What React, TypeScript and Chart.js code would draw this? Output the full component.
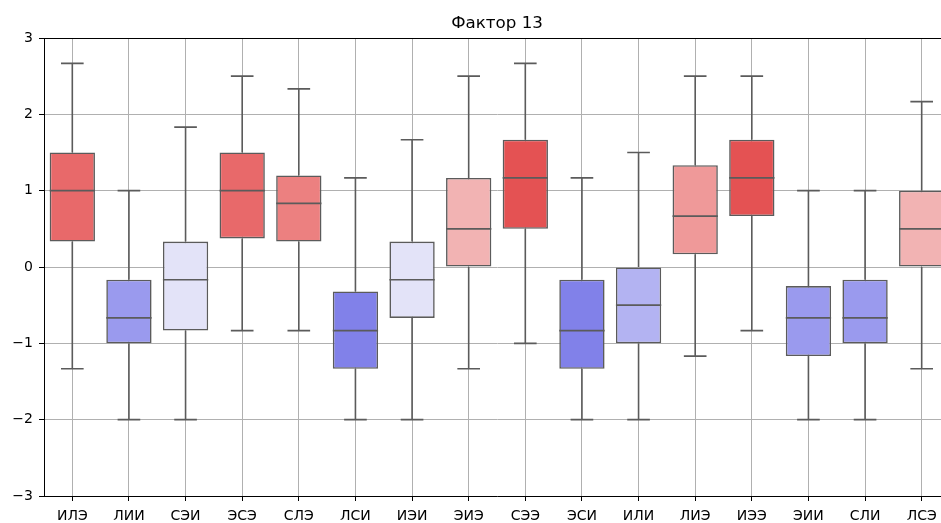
import React, { useEffect, useRef } from "react";
import { Chart, registerables } from "chart.js";

Chart.register(...registerables);

const categories = ["ИЛЭ", "ЛИИ", "СЭИ", "ЭСЭ", "СЛЭ", "ЛСИ", "ИЭИ", "ЭИЭ", "СЭЭ", "ЭСИ", "ИЛИ", "ЛИЭ", "ИЭЭ", "ЭИИ", "СЛИ", "ЛСЭ"];
const whiskerHigh = [2.667, 1.0, 1.833, 2.5, 2.333, 1.167, 1.667, 2.5, 2.667, 1.167, 1.5, 2.5, 2.5, 1.0, 1.0, 2.167];
const q3 = [1.5, -0.167, 0.333, 1.5, 1.2, -0.32, 0.333, 1.167, 1.667, -0.167, 0, 1.333, 1.667, -0.25, -0.167, 1.0];
const medians = [1.0, -0.667, -0.167, 1.0, 0.833, -0.833, -0.167, 0.5, 1.167, -0.833, -0.5, 0.667, 1.167, -0.667, -0.667, 0.5];
const q1 = [0.333, -1.0, -0.833, 0.375, 0.333, -1.333, -0.667, 0, 0.5, -1.333, -1.0, 0.167, 0.667, -1.167, -1.0, 0];
const whiskerLow = [-1.333, -2, -2, -0.833, -0.833, -2, -2, -1.333, -1.0, -2, -2, -1.167, -0.833, -2, -2, -1.333];
const yTicks = [-3, -2, -1, 0, 1, 2, 3];
const title = "Фактор 13";

const boxColors = [
  "#e8696a", "#9a9aee", "#e3e3f8", "#e8696a", "#ec8080", "#8181e9", "#e3e3f8", "#f2b3b3",
  "#e45253", "#8181e9", "#b3b3f2", "#ef9999", "#e45253", "#9a9aee", "#9a9aee", "#f2b3b3",
];

const LINE = "#5b5b5b";
const FONT = "'DejaVu Sans', sans-serif";

const boxPlugin = {
  id: "boxExtras",
  afterDatasetsDraw(chart: any) {
    const { ctx, scales } = chart;
    const x = scales.x;
    const y = scales.y;
    const band = x.getPixelForValue(1) - x.getPixelForValue(0);
    const boxW = band * 0.8;
    const capW = boxW * 0.5;
    ctx.save();
    ctx.strokeStyle = LINE;
    ctx.lineWidth = 1.6;
    ctx.lineCap = "butt";
    categories.forEach((_, i) => {
      const cx = x.getPixelForValue(i);
      const yHi = y.getPixelForValue(whiskerHigh[i]);
      const yLo = y.getPixelForValue(whiskerLow[i]);
      const yQ3 = y.getPixelForValue(q3[i]);
      const yQ1 = y.getPixelForValue(q1[i]);
      const yMed = y.getPixelForValue(medians[i]);
      ctx.beginPath();
      ctx.moveTo(cx, yQ3);
      ctx.lineTo(cx, yHi);
      ctx.moveTo(cx, yQ1);
      ctx.lineTo(cx, yLo);
      ctx.moveTo(cx - capW / 2, yHi);
      ctx.lineTo(cx + capW / 2, yHi);
      ctx.moveTo(cx - capW / 2, yLo);
      ctx.lineTo(cx + capW / 2, yLo);
      ctx.moveTo(cx - boxW / 2, yMed);
      ctx.lineTo(cx + boxW / 2, yMed);
      ctx.stroke();
    });
    ctx.restore();
  },
  afterDraw(chart: any) {
    const { ctx, chartArea } = chart;
    ctx.save();
    ctx.strokeStyle = "#000";
    ctx.lineWidth = 1;
    ctx.beginPath();
    ctx.moveTo(chartArea.left, chartArea.top + 0.5);
    ctx.lineTo(chartArea.right, chartArea.top + 0.5);
    ctx.stroke();
    ctx.fillStyle = "#000";
    ctx.font = `16.7px ${FONT}`;
    ctx.textAlign = "center";
    ctx.textBaseline = "alphabetic";
    ctx.fillText(title, (chartArea.left + chartArea.right) / 2, 28);
    ctx.restore();
  },
};

export default function App() {
  const ref = useRef<HTMLCanvasElement | null>(null);
  useEffect(() => {
    if (!ref.current) return;
    const chart = new Chart(ref.current, {
      type: "bar",
      data: {
        labels: categories,
        datasets: [
          {
            data: categories.map((_, i) => [q1[i], q3[i]]) as any,
            backgroundColor: boxColors,
            borderColor: LINE,
            borderWidth: 1.6,
            borderSkipped: false,
            barPercentage: 0.8,
            categoryPercentage: 1.0,
          },
        ],
      },
      options: {
        animation: false,
        responsive: true,
        maintainAspectRatio: false,
        layout: { padding: { top: 38, right: 10, left: 0, bottom: 0 } },
        plugins: { legend: { display: false }, tooltip: { enabled: false }, title: { display: false } },
        scales: {
          x: {
            offset: true,
            grid: { offset: false, color: "#b0b0b0", lineWidth: 1, tickColor: "#000", tickLength: 5 },
            border: { color: "#000", width: 1 },
            ticks: { autoSkip: false, maxRotation: 0, color: "#000", padding: 7, font: { family: FONT, size: 14 } },
            afterFit: (s: any) => { s.height = 27; },
          },
          y: {
            min: -3,
            max: 3,
            afterBuildTicks: (s: any) => { s.ticks = yTicks.map((v) => ({ value: v })); },
            grid: { color: "#b0b0b0", lineWidth: 1, tickColor: "#000", tickLength: 5 },
            border: { color: "#000", width: 1 },
            ticks: {
              color: "#000",
              padding: 6,
              font: { family: FONT, size: 14 },
              callback: (v: any) => (Number(v) < 0 ? "\u2212" + Math.abs(Number(v)) : String(v)),
            },
            afterFit: (s: any) => { s.width = 44; },
          },
        },
      },
      plugins: [boxPlugin],
    });
    return () => chart.destroy();
  }, []);
  return (
    <div style={{ position: "fixed", left: 0, top: 0, width: 941, height: 523, overflow: "hidden", background: "#fff" }}>
      <div style={{ position: "absolute", left: 0, top: 0, width: 960, height: 523 }}>
        <canvas ref={ref} />
      </div>
    </div>
  );
}
